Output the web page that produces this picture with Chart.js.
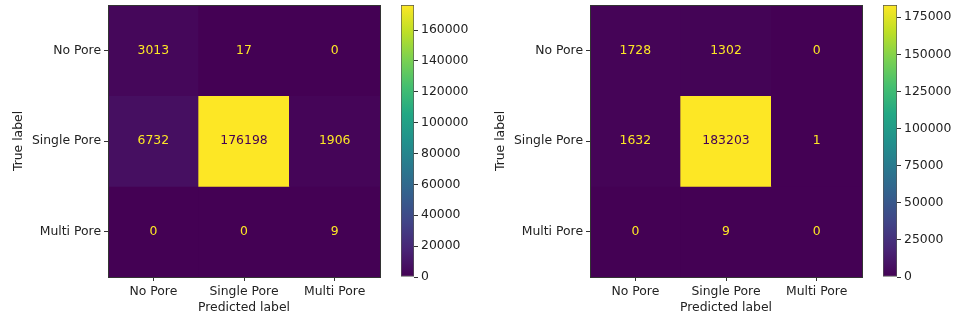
<!DOCTYPE html>
<html>
<head>
<meta charset="utf-8">
<script src="https://cdn.jsdelivr.net/npm/chart.js@4.4.0/dist/chart.umd.min.js"></script>
<style>
  body { margin: 0; background: #fff; width: 956px; height: 321px; position: relative; overflow: hidden; }
  canvas { position: absolute; top: 0; }
</style>
</head>
<body>
<canvas id="cmLeft" width="390" height="321" style="left:0px"></canvas>
<canvas id="cbLeft" width="100" height="321" style="left:380px"></canvas>
<canvas id="cmRight" width="392" height="321" style="left:480px"></canvas>
<canvas id="cbRight" width="94" height="321" style="left:862px"></canvas>
<script>
// nhãn lớp (trục x và y giống nhau)
const classLabels = ['No Pore', 'Single Pore', 'Multi Pore'];

// ma trận nhầm lẫn: hàng = true label, cột = predicted label
const leftMatrix = [
    [3013, 17, 0],
    [6732, 176198, 1906],
    [0, 0, 9]
];
const rightMatrix = [
    [1728, 1302, 0],
    [1632, 183203, 1],
    [0, 9, 0]
];

// vạch chia của thanh màu
const leftBarTicks = [0, 20000, 40000, 60000, 80000, 100000, 120000, 140000, 160000];
const rightBarTicks = [0, 25000, 50000, 75000, 100000, 125000, 150000, 175000];

const font = { family: 'DejaVu Sans', size: 12.4 };
const textColor = '#222';
const lineColor = '#333';

// bảng màu viridis
const viridisStops = [
    [0.0, [68, 1, 84]], [0.05, [71, 19, 101]], [0.1, [72, 36, 117]], [0.2, [65, 68, 135]],
    [0.3, [53, 95, 141]], [0.4, [42, 120, 142]], [0.5, [33, 145, 140]], [0.6, [34, 168, 132]],
    [0.7, [68, 191, 112]], [0.8, [122, 209, 81]], [0.9, [189, 223, 38]], [1.0, [253, 231, 37]]
];
function viridis(t) {
    t = Math.max(0, Math.min(1, t));
    for (let k = 1; k < viridisStops.length; k++) {
        const [t1, c1] = viridisStops[k];
        const [t0, c0] = viridisStops[k - 1];
        if (t <= t1) {
            const f = (t - t0) / (t1 - t0);
            const c = c0.map((v, i) => Math.round(v + (c1[i] - v) * f));
            return `rgb(${c[0]},${c[1]},${c[2]})`;
        }
    }
    return 'rgb(253,231,37)';
}

// bỏ phần đệm tự thêm cho nhãn đầu/cuối để vùng vẽ đúng kích thước
function noEdgePad(s) {
    s.paddingTop = 0;
    s.paddingBottom = 0;
    s.paddingLeft = 0;
    s.paddingRight = 0;
}

function makeMatrix(id, cm, yWidth, titlePad) {
    const flat = cm.flat();
    const vmax = Math.max(...flat);
    const vmin = Math.min(...flat);
    const thresh = (vmax + vmin) / 2;

    // vẽ số trong ô + khung
    const cellText = {
        id: 'cellText',
        afterDatasetsDraw(chart) {
            const {ctx, scales: {x, y}, chartArea} = chart;
            ctx.save();
            ctx.font = font.size + 'px "DejaVu Sans"';
            ctx.textAlign = 'center';
            ctx.textBaseline = 'middle';
            cm.forEach((row, i) => {
                row.forEach((v, j) => {
                    ctx.fillStyle = v < thresh ? viridis(1) : viridis(0);
                    ctx.fillText(String(v), x.getPixelForValue(j), y.getPixelForValue(i));
                });
            });
            ctx.strokeStyle = lineColor;
            ctx.lineWidth = 1;
            ctx.strokeRect(Math.round(chartArea.left) + 0.5, Math.round(chartArea.top) + 0.5,
                Math.round(chartArea.width), Math.round(chartArea.height));
            ctx.restore();
        }
    };

    new Chart(document.getElementById(id), {
        type: 'bar',
        data: {
            labels: classLabels,
            datasets: cm.map((row, i) => ({
                data: row.map(() => [i - 0.5, i + 0.5]),
                backgroundColor: row.map(v => viridis((v - vmin) / (vmax - vmin))),
                borderWidth: 0,
                grouped: false,
                barPercentage: 1,
                categoryPercentage: 1
            }))
        },
        options: {
            responsive: false,
            animation: false,
            layout: { padding: { top: 5, right: 10, left: 0, bottom: 0 } },
            plugins: { legend: { display: false }, tooltip: { enabled: false } },
            scales: {
                x: {
                    grid: { offset: false, drawOnChartArea: false, tickLength: 4, tickColor: lineColor },
                    border: { display: false },
                    ticks: { color: textColor, font: font, padding: 3, maxRotation: 0 },
                    title: { display: true, text: 'Predicted label', color: textColor, font: font, padding: { top: 0, bottom: 6 } },
                    afterFit: s => { s.height = 44; noEdgePad(s); }
                },
                y: {
                    type: 'linear',
                    min: -0.5,
                    max: 2.5,
                    reverse: true,
                    afterBuildTicks: s => { s.ticks = classLabels.map((_, i) => ({ value: i })); },
                    grid: { drawOnChartArea: false, tickLength: 4, tickColor: lineColor },
                    border: { display: false },
                    ticks: { color: textColor, font: font, padding: 3, callback: v => classLabels[v] },
                    title: { display: true, text: 'True label', color: textColor, font: font, padding: { top: titlePad, bottom: 0 } },
                    afterFit: s => { s.width = yWidth; noEdgePad(s); }
                }
            }
        },
        plugins: [cellText]
    });
}

function makeColorbar(id, cm, tickValues, yWidth) {
    const vmax = Math.max(...cm.flat());
    new Chart(document.getElementById(id), {
        type: 'bar',
        data: {
            labels: [''],
            datasets: [{
                data: [[0, vmax]],
                backgroundColor: ctx => {
                    const area = ctx.chart.chartArea;
                    if (!area) return viridis(0);
                    const g = ctx.chart.ctx.createLinearGradient(0, area.bottom, 0, area.top);
                    viridisStops.forEach(([t]) => g.addColorStop(t, viridis(t)));
                    return g;
                },
                borderColor: '#555',
                borderWidth: 1,
                borderSkipped: false,
                barPercentage: 1,
                categoryPercentage: 1
            }]
        },
        options: {
            responsive: false,
            animation: false,
            layout: { padding: { top: 5, right: 0, left: 21, bottom: 44 } },
            plugins: { legend: { display: false }, tooltip: { enabled: false } },
            scales: {
                x: { display: false },
                y: {
                    position: 'right',
                    min: 0,
                    max: vmax,
                    afterBuildTicks: s => { s.ticks = tickValues.map(v => ({ value: v })); },
                    grid: { drawOnChartArea: false, tickLength: 4, tickColor: lineColor },
                    border: { display: false },
                    ticks: { color: textColor, font: font, padding: 3, callback: v => String(v) },
                    afterFit: s => { s.width = yWidth; noEdgePad(s); }
                }
            }
        }
    });
}

makeMatrix('cmLeft', leftMatrix, 108, 11);
makeColorbar('cbLeft', leftMatrix, leftBarTicks, 66);
makeMatrix('cmRight', rightMatrix, 110, 13);
makeColorbar('cbRight', rightMatrix, rightBarTicks, 59);
</script>
</body>
</html>
